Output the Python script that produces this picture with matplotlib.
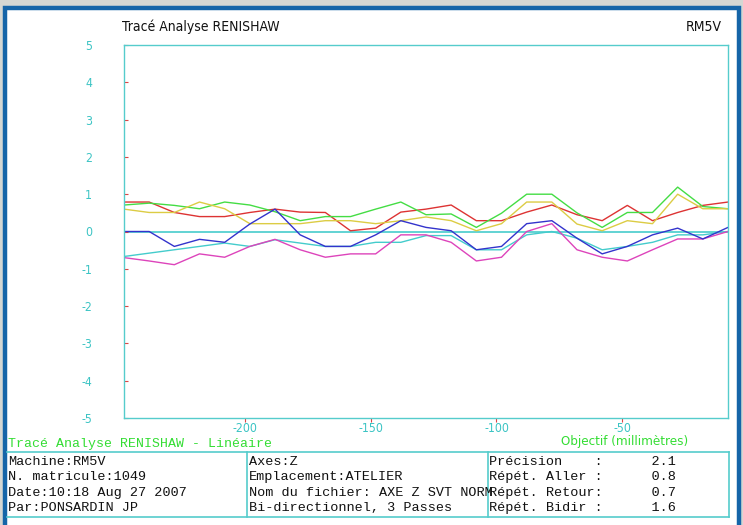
import matplotlib
matplotlib.use('Agg')
import matplotlib.pyplot as plt
from matplotlib.patches import Rectangle
from matplotlib.lines import Line2D

# ---- data ----
x_pos = [-248, -238, -228, -218, -208, -198, -188, -178, -168, -158, -148, -138, -128,
         -118, -108, -98, -88, -78, -68, -58, -48, -38, -28, -18, -8]
red = [0.79, 0.79, 0.51, 0.40, 0.40, 0.51, 0.60, 0.52, 0.51, 0.02, 0.09, 0.52, 0.60,
       0.71, 0.29, 0.29, 0.52, 0.71, 0.45, 0.29, 0.70, 0.29, 0.51, 0.70, 0.79]
green = [0.71, 0.76, 0.70, 0.61, 0.79, 0.71, 0.53, 0.29, 0.40, 0.40, 0.60, 0.79, 0.45,
         0.47, 0.11, 0.49, 1.00, 1.00, 0.50, 0.11, 0.51, 0.51, 1.19, 0.67, 0.61]
yellow = [0.60, 0.51, 0.51, 0.79, 0.61, 0.21, 0.21, 0.21, 0.29, 0.29, 0.21, 0.29, 0.39,
          0.29, 0.02, 0.21, 0.79, 0.79, 0.20, 0.02, 0.29, 0.21, 1.00, 0.61, 0.61]
blue = [0.00, 0.00, -0.40, -0.21, -0.29, 0.20, 0.60, -0.09, -0.40, -0.40, -0.09, 0.29, 0.11,
        0.02, -0.49, -0.40, 0.21, 0.29, -0.18, -0.60, -0.40, -0.09, 0.09, -0.20, 0.11]
cyan = [-0.67, -0.58, -0.49, -0.40, -0.31, -0.40, -0.22, -0.31, -0.40, -0.40, -0.29, -0.29, -0.11,
        -0.11, -0.49, -0.49, -0.09, 0.00, -0.18, -0.49, -0.40, -0.29, -0.09, -0.09, 0.00]
magenta = [-0.70, -0.79, -0.89, -0.60, -0.69, -0.40, -0.21, -0.49, -0.69, -0.60, -0.60, -0.09, -0.09,
           -0.29, -0.79, -0.69, 0.00, 0.21, -0.49, -0.69, -0.79, -0.49, -0.20, -0.20, 0.00]
x_ticks = [-200, -150, -100, -50]
y_ticks = [5, 4, 3, 2, 1, 0, -1, -2, -3, -4, -5]

table_col1 = ["Machine:RM5V", "N. matricule:1049", "Date:10:18 Aug 27 2007", "Par:PONSARDIN JP"]
table_col2 = ["Axes:Z", "Emplacement:ATELIER", "Nom du fichier: AXE Z SVT NORM", "Bi-directionnel, 3 Passes"]
table_col3 = ["Précision    :      2.1", "Répét. Aller :      0.8",
              "Répét. Retour:      0.7", "Répét. Bidir :      1.6"]

# ---- layout helpers ----
W, H = 743, 525
def fx(px): return px / W
def fy(py): return 1 - py / H

NARROW = ['DejaVu Sans']
MONO = ['Liberation Mono', 'DejaVu Sans Mono']
CYAN_T = '#3cc4c4'
FRAME = '#1565a8'
COND = 'condensed'

fig = plt.figure(figsize=(7.43, 5.25), dpi=100)
fig.patch.set_facecolor('#d4d7d3')
fig.add_artist(Rectangle((fx(5), fy(540)), fx(739) - fx(5), fy(8) - fy(540),
                         transform=fig.transFigure, facecolor='white',
                         edgecolor=FRAME, linewidth=3.2, zorder=0))

ax = fig.add_axes([fx(124), fy(418), fx(728) - fx(124), fy(45) - fy(418)])
ax.set_facecolor('white')
for s in ax.spines.values():
    s.set_color('#55cccc')
    s.set_linewidth(1.0)

ax.axhline(0, color='#55d0d0', lw=1.3, zorder=1)
series = [(red, '#dd3333'), (green, '#44dd44'), (yellow, '#dccc44'),
          (cyan, '#44cccc'), (magenta, '#dd44bb'), (blue, '#3333cc')]
for vals, col in series:
    ax.plot(x_pos, vals, color=col, lw=1.0, zorder=2)

ax.set_xlim(-248, -8)
ax.set_ylim(-5, 5)
ax.set_xticks(x_ticks)
ax.set_xticklabels([str(v) for v in x_ticks], family=NARROW, fontstretch=COND,
                   fontsize=8.8, color=CYAN_T)
ax.set_yticks(y_ticks)
ax.set_yticklabels([str(v) for v in y_ticks], family=NARROW, fontstretch=COND,
                   fontsize=8.8, color=CYAN_T)
ax.tick_params(axis='x', direction='out', length=3, color='#dd4444', pad=0)
ax.tick_params(axis='y', direction='in', length=3, color='#dd4444', pad=23)

# titles
fig.text(fx(122), fy(27), 'Tracé Analyse RENISHAW', ha='left', va='center',
         family=NARROW, fontstretch=COND, fontsize=10, color='#111111')
fig.text(fx(722), fy(27), 'RM5V', ha='right', va='center',
         family=NARROW, fontstretch=COND, fontsize=10, color='#111111')
fig.text(fx(8), fy(444), 'Tracé Analyse RENISHAW - Linéaire', ha='left', va='center',
         family=MONO, fontsize=9.5, color='#33dd33')
fig.text(fx(625), fy(441), 'Objectif (millimètres)', ha='center', va='center',
         family=NARROW, fontstretch=COND, fontsize=9.5, color='#33dd33')

# table
tcol = '#55cccc'
top, bot = 452, 517
for yy in (top, bot):
    fig.add_artist(Line2D([fx(7), fx(729)], [fy(yy), fy(yy)], transform=fig.transFigure,
                          color=tcol, lw=1.2))
for xx in (247, 488, 729):
    fig.add_artist(Line2D([fx(xx), fx(xx)], [fy(top), fy(bot)], transform=fig.transFigure,
                          color=tcol, lw=1.2))
rows = [462, 477, 493, 508]
for xs, col in ((8, table_col1), (249, table_col2), (489, table_col3)):
    for r, t in zip(rows, col):
        fig.text(fx(xs), fy(r), t, ha='left', va='center', family=MONO,
                 fontsize=9.7, color='#111111')

fig.savefig('out.png', dpi=100, facecolor=fig.get_facecolor())
